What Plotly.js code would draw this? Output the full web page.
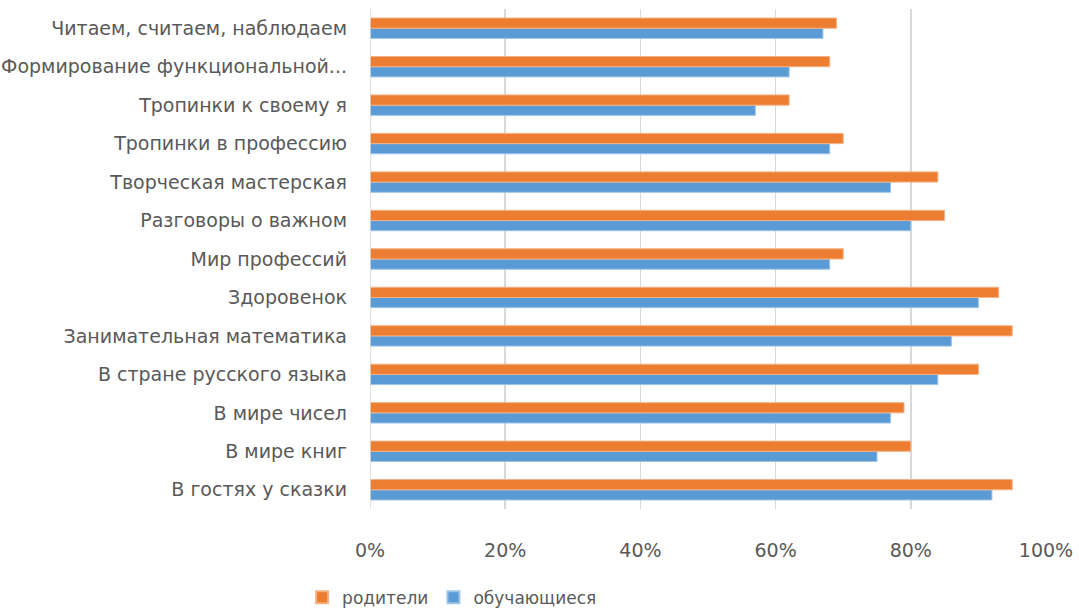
<!DOCTYPE html>
<html>
<head>
<meta charset="utf-8">
<script src="https://cdn.plot.ly/plotly-3.0.1.min.js"></script>
<style>html,body{margin:0;padding:0;background:#fff;}#chart{width:1079px;height:610px;}</style>
</head>
<body>
<div id="chart"></div>
<script>
const categories = [
  "В гостях у сказки",
  "В мире книг",
  "В мире чисел",
  "В стране русского языка",
  "Занимательная математика",
  "Здоровенок",
  "Мир профессий",
  "Разговоры о важном",
  "Творческая мастерская",
  "Тропинки в профессию",
  "Тропинки к своему я",
  "Формирование функциональной...",
  "Читаем, считаем, наблюдаем"
];
const students = [92, 75, 77, 84, 86, 90, 68, 80, 77, 68, 57, 62, 67];
const parents  = [95, 80, 79, 90, 95, 93, 70, 85, 84, 70, 62, 68, 69];
const tickVals = [0, 20, 40, 60, 80, 100];
const tickText = ["0%", "20%", "40%", "60%", "80%", "100%"];

const fontFam = "DejaVu Sans, Liberation Sans, Arial, sans-serif";
const data = [
  {type: "bar", orientation: "h", name: "обучающиеся", y: categories, x: students,
   marker: {color: "#5b9bd5", line: {color: "#9dc3e6", width: 1}}},
  {type: "bar", orientation: "h", name: "родители", y: categories, x: parents,
   marker: {color: "#ed7d31", line: {color: "#f4b183", width: 1}}}
];
const layout = {
  width: 1079, height: 610,
  margin: {l: 370, r: 33, t: 9, b: 101},
  paper_bgcolor: "#fff", plot_bgcolor: "#fff",
  barmode: "group", bargap: 0.47, bargroupgap: 0,
  font: {family: fontFam, size: 18, color: "#595959"},
  xaxis: {range: [0, 100], tickvals: tickVals, ticktext: tickText,
          showgrid: true, gridcolor: "#d9d9d9", gridwidth: 1.5,
          zeroline: false, showline: false, ticks: "", ticklabelstandoff: 28,
          tickfont: {size: 19, color: "#595959", family: fontFam}, fixedrange: true},
  yaxis: {type: "category", categoryorder: "array", categoryarray: categories,
          showgrid: false, zeroline: false, showline: false, ticks: "",
          ticklabelstandoff: 22,
          tickfont: {size: 19, color: "#595959", family: fontFam}, fixedrange: true},
  shapes: [{type: "line", xref: "x", yref: "paper", x0: 0, x1: 0, y0: 0, y1: 1,
            line: {color: "#d9d9d9", width: 1.5}}],
  showlegend: true,
  legend: {orientation: "h", traceorder: "reversed", xref: "container", yref: "container",
           x: 0.28, xanchor: "left", y: 0.02, yanchor: "middle",
           font: {size: 17, color: "#595959", family: fontFam},
           itemwidth: 30, itemsizing: "constant"}
};
Plotly.newPlot("chart", data, layout, {displayModeBar: false, staticPlot: true});
</script>
</body>
</html>
